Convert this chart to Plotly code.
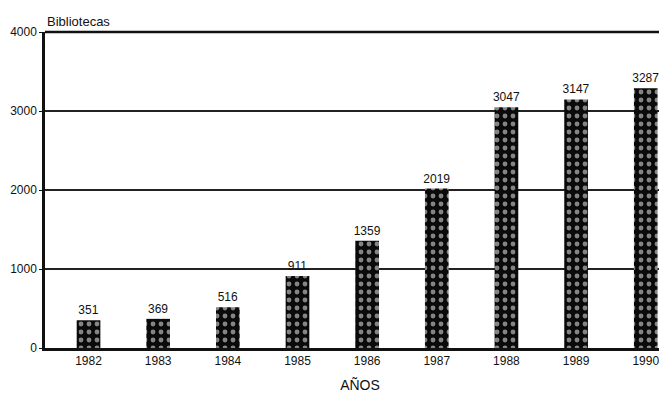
import plotly.graph_objects as go

years = ["1982", "1983", "1984", "1985", "1986", "1987", "1988", "1989", "1990"]
libraries = [351, 369, 516, 911, 1359, 2019, 3047, 3147, 3287]
y_ticks = [0, 1000, 2000, 3000, 4000]

positions = list(range(len(years)))

fig = go.Figure(
    go.Bar(
        x=positions,
        y=libraries,
        width=0.34,
        text=[str(v) for v in libraries],
        textposition="outside",
        constraintext="none",
        textfont=dict(family="Liberation Sans, Arial, sans-serif", size=12, color="#111"),
        cliponaxis=False,
        marker=dict(
            color="#111",
            line=dict(width=0),
            pattern=dict(shape=".", bgcolor="#0a0a0a", fgcolor="white", size=8, solidity=0.28),
        ),
        showlegend=False,
    )
)

fig.update_layout(
    width=667,
    height=405,
    margin=dict(l=37, r=0, t=24, b=65),
    paper_bgcolor="white",
    plot_bgcolor="white",
    font=dict(family="Liberation Sans, Arial, sans-serif", color="#111", size=12),
    bargap=0.6,
)

fig.update_xaxes(
    range=[-0.625, 8.42],
    tickvals=positions,
    ticktext=years,
    showgrid=False,
    showline=True,
    linecolor="#111",
    linewidth=2.5,
    ticks="",
    zeroline=False,
    tickfont=dict(size=12),
    title=dict(text="AÑOS", font=dict(size=14), standoff=14),
)

fig.update_yaxes(
    range=[0, 4000],
    tickvals=y_ticks,
    showgrid=True,
    gridcolor="#222",
    gridwidth=1.5,
    showline=True,
    linecolor="#111",
    linewidth=2.5,
    ticks="outside",
    ticklen=3,
    tickcolor="#111",
    zeroline=False,
    tickfont=dict(size=12),
)

fig.add_shape(type="line", xref="paper", yref="paper", x0=0, x1=1, y0=1, y1=1,
              line=dict(color="#111", width=2.5))

fig.add_annotation(text="Bibliotecas", xref="paper", yref="paper", x=0.0, y=1.0,
                   xanchor="left", yanchor="bottom", yshift=1, showarrow=False,
                   font=dict(size=13, color="#111"))

fig.write_html("out.html")
